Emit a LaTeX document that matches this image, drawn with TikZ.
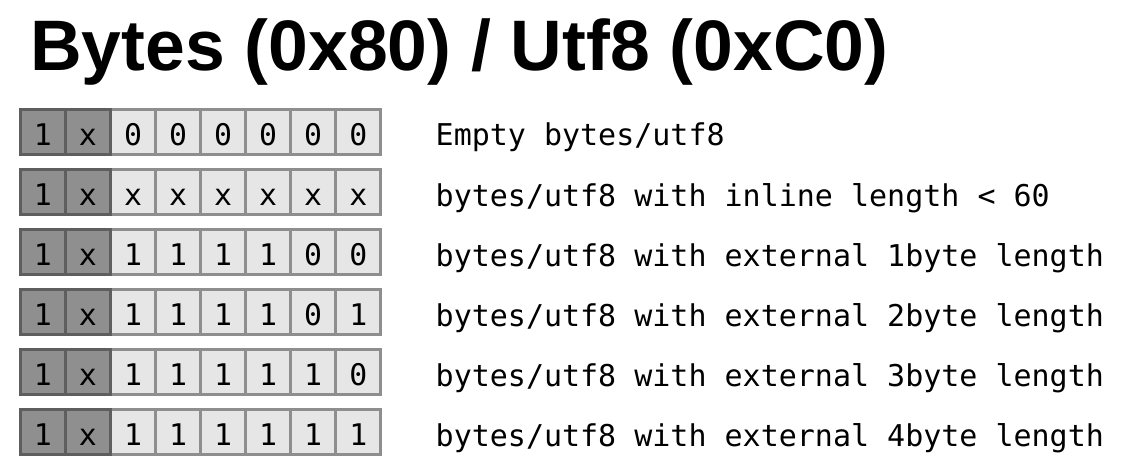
\documentclass[tikz,border=0pt]{standalone}
\usepackage{fontspec}
\setmainfont{Liberation Sans}
\newfontfamily\monofont{DejaVu Sans Mono}
\definecolor{hdrfill}{HTML}{8F8F8F}
\definecolor{hdrline}{HTML}{5E5E5E}
\definecolor{bitfill}{HTML}{E6E6E6}
\definecolor{bitline}{HTML}{8E8E8E}
\tikzset{
  bitcell/.style={draw=bitline, fill=bitfill, line width=2.6pt,
    minimum width=45pt, minimum height=45pt, inner sep=0pt,
    text height=27pt, text depth=0pt,
    font=\monofont\fontsize{29.8}{32}\selectfont},
  tagcell/.style={bitcell, draw=hdrline, fill=hdrfill},
  desc/.style={anchor=base west, inner sep=0pt,
    font=\monofont\fontsize{30}{32}\selectfont},
  heading/.style={anchor=base west, inner sep=0pt,
    font=\bfseries\fontsize{71.5}{80}\selectfont}
}
\begin{document}
\begin{tikzpicture}[x=1pt,y=1pt]
  \useasboundingbox[fill=white] (0,0) rectangle (1126,472);
  \node[heading] (title) at (30,401) {Bytes (0x80) / Utf8 (0xC0)};
  % one row per encoding: row index / six payload bits / description
  \foreach \r/\bits/\txt in {
      1/{0,0,0,0,0,0}/{Empty bytes/utf8},
      2/{x,x,x,x,x,x}/{bytes/utf8 with inline length < 60},
      3/{1,1,1,1,0,0}/{bytes/utf8 with external 1byte length},
      4/{1,1,1,1,0,1}/{bytes/utf8 with external 2byte length},
      5/{1,1,1,1,1,0}/{bytes/utf8 with external 3byte length},
      6/{1,1,1,1,1,1}/{bytes/utf8 with external 4byte length}} {
    \pgfmathsetmacro{\cy}{472-132-60*(\r-1)}
    % payload bits
    \foreach \b [count=\i from 3] in \bits {
      \node[bitcell] (c-\r-\i) at ({42.9+45.05*(\i-1)},\cy) {\b};
    }
    % type tag bits drawn last so their darker frame stays on top
    \node[tagcell] (c-\r-1) at (42.9,\cy) {1};
    \node[tagcell] (c-\r-2) at (42.9+45.05,\cy) {x};
    \node[desc] (d-\r) at (435.5,\cy-14) {\txt};
  }
\end{tikzpicture}
\end{document}
